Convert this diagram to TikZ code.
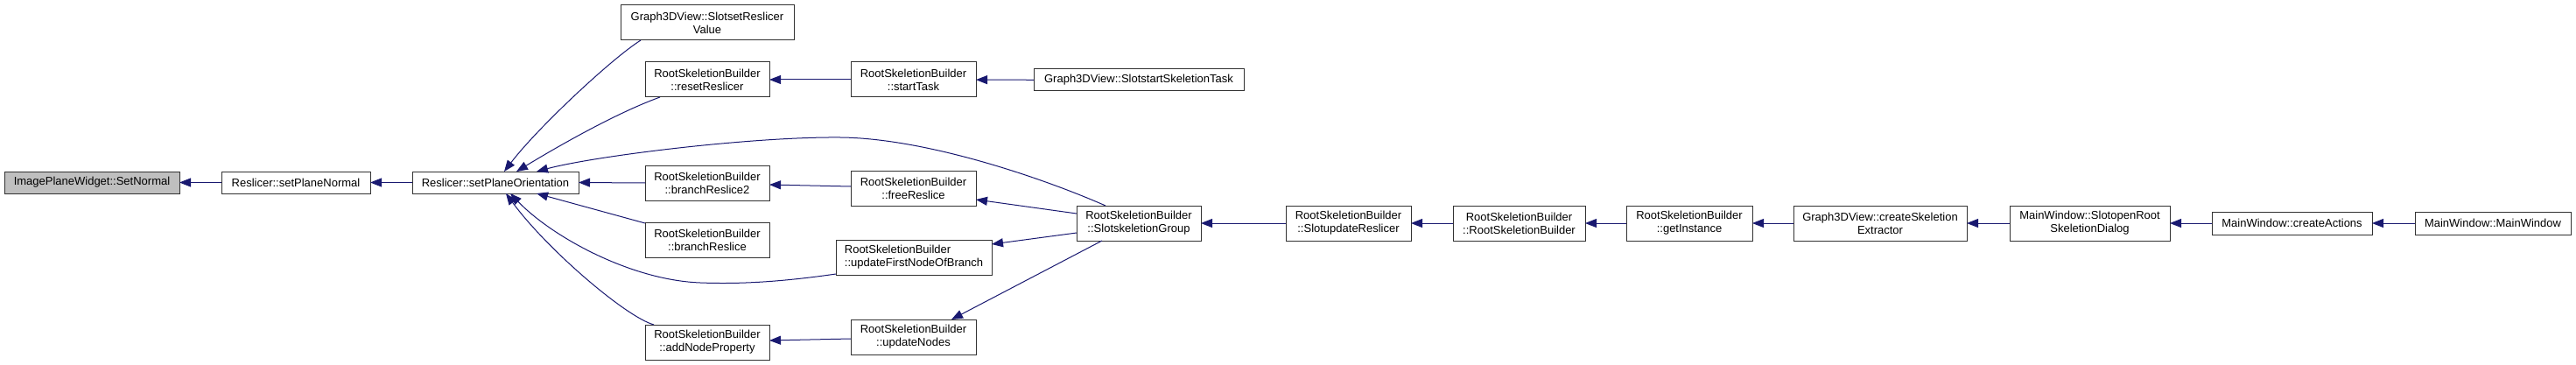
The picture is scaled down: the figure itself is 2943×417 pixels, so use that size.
\documentclass[tikz,border=0pt]{standalone}
\usepackage{fontspec}
\setmainfont{Liberation Sans}
\usetikzlibrary{arrows.meta,calc}
\definecolor{edgec}{RGB}{25,25,112}
\definecolor{boxc}{RGB}{50,50,50}
\definecolor{hl}{RGB}{191,191,191}
\tikzset{
  box/.style={draw=boxc, line width=1pt, fill=white, inner sep=0pt, outer sep=0pt,
    align=center, font=\fontsize{13}{15}\selectfont},
  edge/.style={draw=edgec, line width=1pt, -{Triangle[length=13pt,width=10pt]}},
}
\begin{document}
\begin{tikzpicture}[x=1pt,y=-1pt]
\useasboundingbox (0,0) rectangle (2943,417);
% nodes
\node[box, minimum width=200pt, minimum height=25pt, fill=hl] (A) at (105,208.5) {ImagePlaneWidget::SetNormal};
\node[box, minimum width=170pt, minimum height=25pt] (B) at (338,208.5) {Reslicer::setPlaneNormal};
\node[box, minimum width=190pt, minimum height=25pt] (C) at (566,208.5) {Reslicer::setPlaneOrientation};
\node[box, minimum width=198pt, minimum height=40pt] (D) at (808,26) {Graph3DView::SlotsetReslicer\\Value};
\node[box, minimum width=142pt, minimum height=40pt] (E) at (808,91) {RootSkeletionBuilder\\::resetReslicer};
\node[box, minimum width=142pt, minimum height=40pt] (F) at (808,209) {RootSkeletionBuilder\\::branchReslice2};
\node[box, minimum width=142pt, minimum height=40pt] (G) at (808,274) {RootSkeletionBuilder\\::branchReslice};
\node[box, minimum width=142pt, minimum height=40pt] (H) at (808,391) {RootSkeletionBuilder\\::addNodeProperty};
\node[box, minimum width=143pt, minimum height=40pt] (I) at (1043.5,91) {RootSkeletionBuilder\\::startTask};
\node[box, minimum width=240pt, minimum height=25pt] (J) at (1301,91.5) {Graph3DView::SlotstartSkeletionTask};
\node[box, minimum width=143pt, minimum height=40pt] (K) at (1043.5,215) {RootSkeletionBuilder\\::freeReslice};
\node[box, minimum width=142pt, minimum height=40pt] (L) at (1301,255) {RootSkeletionBuilder\\::SlotskeletionGroup};
\node[box, minimum width=178pt, minimum height=40pt, align=left] (M) at (1044,294) {RootSkeletionBuilder\\::updateFirstNodeOfBranch};
\node[box, minimum width=143pt, minimum height=40pt] (N) at (1043.5,385) {RootSkeletionBuilder\\::updateNodes};
\node[box, minimum width=143pt, minimum height=40pt] (O) at (1540.5,255) {RootSkeletionBuilder\\::SlotupdateReslicer};
\node[box, minimum width=151pt, minimum height=40pt] (P) at (1735.5,255) {RootSkeletionBuilder\\::RootSkeletionBuilder};
\node[box, minimum width=144pt, minimum height=40pt] (Q) at (1930,255) {RootSkeletionBuilder\\::getInstance};
\node[box, minimum width=198pt, minimum height=40pt] (R) at (2148,255) {Graph3DView::createSkeletion\\Extractor};
\node[box, minimum width=183pt, minimum height=40pt] (S) at (2387.5,255) {MainWindow::SlotopenRoot\\SkeletionDialog};
\node[box, minimum width=183pt, minimum height=26pt] (T) at (2618.5,255) {MainWindow::createActions};
\node[box, minimum width=178pt, minimum height=26pt] (U) at (2848,255) {MainWindow::MainWindow};
% straight edges
\draw[edge] (B) -- (A);
\draw[edge] (C) -- (B);
\draw[edge] (F.west) -- (C.east);
\draw[edge] (I) -- (E);
\draw[edge] (J) -- (I);
\draw[edge] ($(K.west)+(0,-2)$) -- ($(F.east)+(0,2)$);
\draw[edge] ($(L.west)+(0,-11)$) -- ($(K.south east)+(0,-7)$);
\draw[edge] ($(L.west)+(0,11)$) -- ($(M.north east)+(0,5)$);
\draw[edge] ($(L.south west)+(29,0)$) -- ($(N.north west)+(115,0)$);
\draw[edge] ($(N.west)+(0,2)$) -- ($(H.east)+(0,-2)$);
\draw[edge] ($(G.north west)+(0,1)$) -- ($(C.south west)+(142,0)$);
\draw[edge] (O) -- (L);
\draw[edge] (P) -- (O);
\draw[edge] (Q) -- (P);
\draw[edge] (R) -- (Q);
\draw[edge] (S) -- (R);
\draw[edge] (T) -- (S);
\draw[edge] (U) -- (T);
% curved edges
\draw[edge] ($(D.south west)+(23,0)$) .. controls (700,66) and (615,145) .. ($(C.north west)+(105,0)$);
\draw[edge] ($(E.south west)+(17,0)$) .. controls (704,129) and (636,168) .. ($(C.north west)+(119,0)$);
\draw[edge] ($(L.north west)+(33,0)$) .. controls (1195,205) and (1060,158) .. (960,157)
   .. controls (860,156) and (680,178) .. ($(C.north west)+(142,0)$);
\draw[edge] ($(H.north west)+(10,0)$) .. controls (715,362) and (625,285) .. ($(C.south west)+(107,0)$);
\draw[edge] ($(M.south west)+(0,-1)$) .. controls (900,321) and (850,325) .. (800,323)
   .. controls (720,320) and (630,270) .. ($(C.south west)+(112,0)$);
\end{tikzpicture}
\end{document}
